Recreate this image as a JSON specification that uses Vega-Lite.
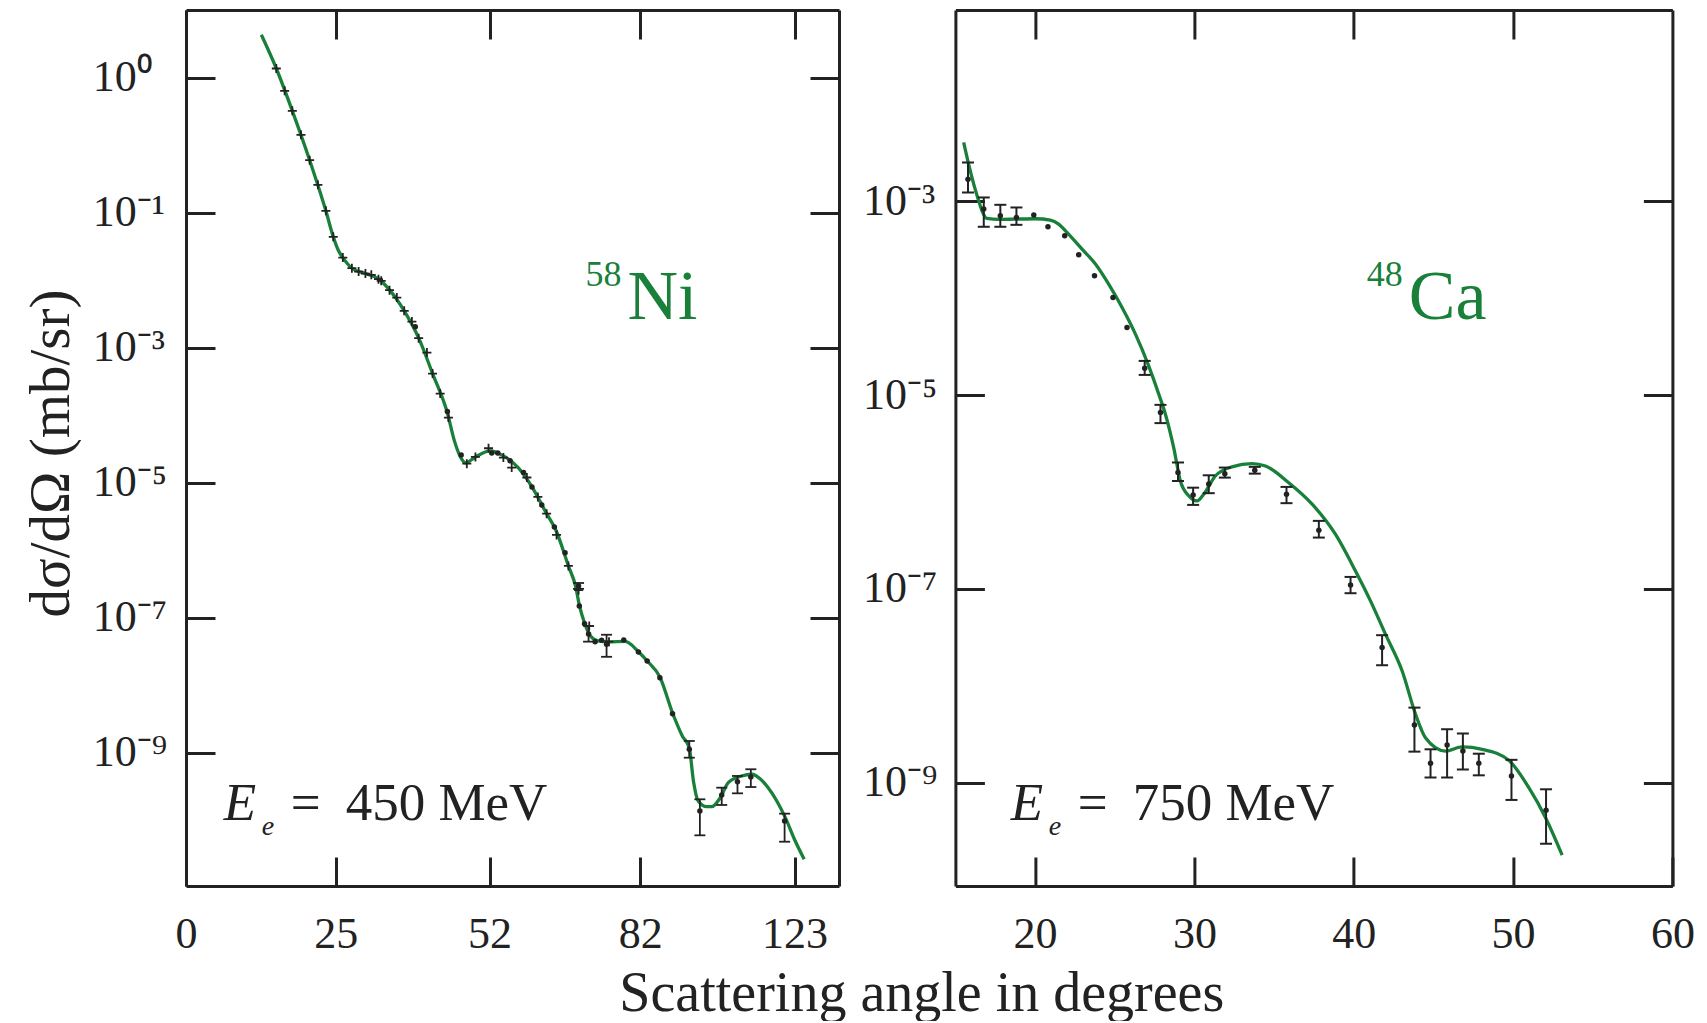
{
  "$schema": "https://vega.github.io/schema/vega-lite/v6.json",
  "background": "white",
  "padding": {"left": 22, "top": 8, "right": 5, "bottom": 0},
  "bounds": "flush",
  "spacing": 116.4,
  "config": {"view": {"stroke": null}, "font": "Liberation Serif"},
  "datasets": {
    "ni_curve": [
      {"angle": 12.49, "value": 42.9}, {"angle": 14.99, "value": 13.6}, {"angle": 17.66, "value": 3.21},
      {"angle": 20.56, "value": 0.597}, {"angle": 23.31, "value": 0.106}, {"angle": 24.56, "value": 0.0437},
      {"angle": 25.45, "value": 0.0271}, {"angle": 26.18, "value": 0.0215}, {"angle": 27.72, "value": 0.015},
      {"angle": 30.01, "value": 0.01248}, {"angle": 32.28, "value": 0.01042}, {"angle": 34.19, "value": 0.00716},
      {"angle": 36.74, "value": 0.0035}, {"angle": 39.24, "value": 0.00139}, {"angle": 41.71, "value": 0.000412},
      {"angle": 44.36, "value": 0.0001078}, {"angle": 45.62, "value": 0.0000415}, {"angle": 46.7, "value": 0.000024},
      {"angle": 47.66, "value": 0.0000196}, {"angle": 49.38, "value": 0.000024}, {"angle": 52.12, "value": 0.0000295},
      {"angle": 54.57, "value": 0.0000249}, {"angle": 57.37, "value": 0.0000165}, {"angle": 59.9, "value": 0.00000864},
      {"angle": 62.77, "value": 0.00000347}, {"angle": 64.66, "value": 0.00000192}, {"angle": 67.04, "value": 5.83e-7},
      {"angle": 68.43, "value": 2.95e-7}, {"angle": 69.22, "value": 1.49e-7}, {"angle": 70.22, "value": 8.34e-8},
      {"angle": 71.45, "value": 5.36e-8}, {"angle": 73.1, "value": 4.52e-8}, {"angle": 75.17, "value": 4.37e-8},
      {"angle": 78.68, "value": 4.44e-8}, {"angle": 81.57, "value": 3.13e-8}, {"angle": 83.53, "value": 2.28e-8},
      {"angle": 86.38, "value": 1.32e-8}, {"angle": 89.22, "value": 3.87e-9}, {"angle": 91.54, "value": 1.77e-9},
      {"angle": 93.25, "value": 1.17e-9}, {"angle": 94.26, "value": 3.81e-10}, {"angle": 95.43, "value": 1.92e-10},
      {"angle": 97.49, "value": 1.585e-10}, {"angle": 98.76, "value": 1.585e-10}, {"angle": 100.91, "value": 2.15e-10},
      {"angle": 103.1, "value": 3.6e-10}, {"angle": 106.7, "value": 4.52e-10}, {"angle": 109.52, "value": 4.79e-10},
      {"angle": 112.06, "value": 4.07e-10}, {"angle": 114.46, "value": 3.03e-10}, {"angle": 119.75, "value": 1.09e-10},
      {"angle": 122.92, "value": 5.27e-11}, {"angle": 126.45, "value": 2.64e-11}
    ],
    "ni_crosses": [
      {"angle": 14.99, "value": 13.6}, {"angle": 16.38, "value": 6.35}, {"angle": 17.66, "value": 3.21},
      {"angle": 19.1, "value": 1.416}, {"angle": 20.56, "value": 0.597}, {"angle": 21.96, "value": 0.2573},
      {"angle": 23.31, "value": 0.106}, {"angle": 24.56, "value": 0.0437}, {"angle": 26.18, "value": 0.02154},
      {"angle": 27.72, "value": 0.01501}, {"angle": 28.86, "value": 0.01336}, {"angle": 30.01, "value": 0.01248},
      {"angle": 31.03, "value": 0.01194}, {"angle": 32.28, "value": 0.01031}, {"angle": 32.75, "value": 0.00973},
      {"angle": 34.19, "value": 0.00709}, {"angle": 35.45, "value": 0.0055}, {"angle": 36.74, "value": 0.0035},
      {"angle": 38.07, "value": 0.002428}, {"angle": 39.24, "value": 0.001378}, {"angle": 40.7, "value": 0.000843},
      {"angle": 41.71, "value": 0.000412}, {"angle": 43.07, "value": 0.000208}, {"angle": 44.55, "value": 0.0000918},
      {"angle": 47.84, "value": 0.0000191}, {"angle": 49.38, "value": 0.000024}, {"angle": 51.8, "value": 0.0000323},
      {"angle": 54.57, "value": 0.0000235}, {"angle": 56.12, "value": 0.0000167}, {"angle": 58.95, "value": 0.0000119},
      {"angle": 61.05, "value": 0.00000614}, {"angle": 62.77, "value": 0.00000347}, {"angle": 64.72, "value": 0.00000168},
      {"angle": 67.04, "value": 5.83e-7}, {"angle": 69.04, "value": 2.55e-7}, {"angle": 71.2, "value": 7.53e-8},
      {"angle": 75.32, "value": 4.41e-8}
    ],
    "ni_dots": [
      {"angle": 38.66, "value": 0.00203}, {"angle": 44.36, "value": 0.000113}, {"angle": 46.83, "value": 0.0000257},
      {"angle": 52.4, "value": 0.0000275}, {"angle": 53.52, "value": 0.0000275}, {"angle": 55.82, "value": 0.000021},
      {"angle": 58.33, "value": 0.0000141}, {"angle": 59.9, "value": 0.00000864}, {"angle": 61.82, "value": 0.00000467},
      {"angle": 64.29, "value": 0.00000221}, {"angle": 66.39, "value": 9.18e-7},
      {"angle": 69.03, "value": 2.95e-7, "lo": 2.67e-7, "hi": 3.26e-7},
      {"angle": 69.18, "value": 1.49e-7}, {"angle": 70.22, "value": 8.15e-8},
      {"angle": 71.06, "value": 5.73e-8, "lo": 4.41e-8, "hi": 7.53e-8},
      {"angle": 72.43, "value": 4.41e-8}, {"angle": 73.78, "value": 4.63e-8},
      {"angle": 74.81, "value": 4.04e-8, "lo": 2.63e-8, "hi": 5.58e-8},
      {"angle": 78.4, "value": 4.67e-8}, {"angle": 81.57, "value": 3.1e-8}, {"angle": 83.53, "value": 2.28e-8},
      {"angle": 86.38, "value": 1.29e-8}, {"angle": 89.22, "value": 3.78e-9},
      {"angle": 93.25, "value": 1.12e-9, "lo": 8.43e-10, "hi": 1.49e-9},
      {"angle": 95.84, "value": 1.37e-10, "lo": 5.97e-11, "hi": 2.04e-10},
      {"angle": 101.32, "value": 2.36e-10, "lo": 1.68e-10, "hi": 3.03e-10},
      {"angle": 105.6, "value": 3.72e-10, "lo": 2.5e-10, "hi": 4.52e-10},
      {"angle": 109.23, "value": 4.37e-10, "lo": 3.1e-10, "hi": 5.68e-10},
      {"angle": 119.52, "value": 9.73e-11, "lo": 4.8e-11, "hi": 1.25e-10}
    ],
    "ca_curve": [
      {"angle": 15.52, "value": 0.00407}, {"angle": 15.83, "value": 0.00243}, {"angle": 16.15, "value": 0.00151},
      {"angle": 16.46, "value": 0.001017}, {"angle": 16.67, "value": 0.000801}, {"angle": 16.98, "value": 0.000668},
      {"angle": 17.72, "value": 0.000652}, {"angle": 18.77, "value": 0.000658}, {"angle": 20.02, "value": 0.000663},
      {"angle": 20.96, "value": 0.000642}, {"angle": 21.48, "value": 0.000584}, {"angle": 21.91, "value": 0.000498},
      {"angle": 22.95, "value": 0.000322}, {"angle": 23.79, "value": 0.000226}, {"angle": 24.62, "value": 0.00014},
      {"angle": 25.46, "value": 0.0000804}, {"angle": 26.3, "value": 0.0000427}, {"angle": 27.13, "value": 0.0000201},
      {"angle": 27.76, "value": 0.0000103}, {"angle": 28.18, "value": 0.00000637}, {"angle": 28.7, "value": 0.00000288},
      {"angle": 29.12, "value": 0.0000013}, {"angle": 29.65, "value": 9.13e-7}, {"angle": 30.17, "value": 8.11e-7},
      {"angle": 30.59, "value": 9.51e-7}, {"angle": 31.32, "value": 0.00000147}, {"angle": 32.36, "value": 0.00000182},
      {"angle": 33.62, "value": 0.00000197}, {"angle": 34.46, "value": 0.00000186}, {"angle": 35.92, "value": 0.00000125},
      {"angle": 37.39, "value": 7.5e-7}, {"angle": 38.85, "value": 3.67e-7}, {"angle": 40.11, "value": 1.53e-7},
      {"angle": 41.05, "value": 7.52e-8}, {"angle": 41.99, "value": 3.41e-8}, {"angle": 43.04, "value": 1.42e-8},
      {"angle": 43.88, "value": 5.08e-9}, {"angle": 44.5, "value": 2.91e-9}, {"angle": 45.76, "value": 2.12e-9},
      {"angle": 46.8, "value": 2.34e-9}, {"angle": 48.06, "value": 2.21e-9}, {"angle": 49.73, "value": 1.7e-9},
      {"angle": 50.99, "value": 8.87e-10}, {"angle": 52.04, "value": 4.35e-10}, {"angle": 53.08, "value": 1.79e-10}
    ],
    "ca_points": [
      {"angle": 15.79, "value": 0.0017, "lo": 0.00124, "hi": 0.00253},
      {"angle": 16.78, "value": 0.000835, "lo": 0.000548, "hi": 0.0011},
      {"angle": 17.82, "value": 0.000712, "lo": 0.000548, "hi": 0.000924},
      {"angle": 18.83, "value": 0.000684, "lo": 0.000574, "hi": 0.000867},
      {"angle": 19.92, "value": 0.000724}, {"angle": 20.81, "value": 0.000548}, {"angle": 21.86, "value": 0.000442},
      {"angle": 22.74, "value": 0.000282}, {"angle": 23.73, "value": 0.000171}, {"angle": 24.89, "value": 0.000102},
      {"angle": 25.77, "value": 0.00005},
      {"angle": 26.88, "value": 0.000019, "lo": 0.0000162, "hi": 0.0000226},
      {"angle": 27.87, "value": 0.00000662, "lo": 0.00000515, "hi": 0.00000795},
      {"angle": 28.97, "value": 0.00000159, "lo": 0.0000013, "hi": 0.00000202},
      {"angle": 29.92, "value": 9.35e-7, "lo": 7.37e-7, "hi": 0.00000111},
      {"angle": 30.9, "value": 0.00000121, "lo": 9.74e-7, "hi": 0.00000149},
      {"angle": 31.91, "value": 0.00000155, "lo": 0.00000141, "hi": 0.00000179},
      {"angle": 33.79, "value": 0.00000168, "lo": 0.00000155, "hi": 0.00000182},
      {"angle": 35.78, "value": 9.51e-7, "lo": 7.68e-7, "hi": 0.00000113},
      {"angle": 37.81, "value": 4.04e-7, "lo": 3.39e-7, "hi": 5.04e-7},
      {"angle": 39.8, "value": 1.1e-7, "lo": 9.03e-8, "hi": 1.33e-7},
      {"angle": 41.78, "value": 2.48e-8, "lo": 1.63e-8, "hi": 3.33e-8},
      {"angle": 43.81, "value": 3.94e-9, "lo": 2.09e-9, "hi": 5.95e-9},
      {"angle": 44.82, "value": 1.59e-9, "lo": 1.13e-9, "hi": 2.21e-9},
      {"angle": 45.86, "value": 2.45e-9, "lo": 1.13e-9, "hi": 3.56e-9},
      {"angle": 46.85, "value": 2.12e-9, "lo": 1.37e-9, "hi": 3.21e-9},
      {"angle": 47.85, "value": 1.59e-9, "lo": 1.19e-9, "hi": 1.99e-9},
      {"angle": 49.9, "value": 1.17e-9, "lo": 6.63e-10, "hi": 1.72e-9},
      {"angle": 52.07, "value": 5.19e-10, "lo": 2.34e-10, "hi": 8.54e-10}
    ]
  },
  "hconcat": [
    {
      "width": 653,
      "height": 876,
      "resolve": {"axis": {"x": "independent", "y": "independent"}},
      "layer": [
        {
          "data": {"name": "ni_curve"},
          "mark": {"type": "line", "color": "#19803a", "strokeWidth": 3.3, "interpolate": "monotone", "clip": true},
          "encoding": {
            "x": {
              "field": "angle", "type": "quantitative",
              "scale": {"domain": [0, 10, 20, 30, 40, 50, 60, 70, 80, 90, 100, 110, 120, 130, 140.88], "range": [0, 60.4, 120.34, 179.36, 237.02, 292.88, 346.5, 397.49, 445.45, 490.02, 530.87, 567.67, 600.16, 628.07, 653], "nice": false, "zero": false},
              "axis": {"orient": "bottom", "values": [0, 25, 52, 82, 123], "format": "d", "title": "Scattering angle in degrees", "titleX": 735.3, "titleY": 124, "titleBaseline": "alphabetic", "titleAlign": "center", "titleFont": "Liberation Serif", "titleFontSize": 56, "titleFontWeight": "normal", "titleColor": "#222", "labelFont": "Liberation Serif", "labelFontSize": 44, "labelColor": "#222", "labelPadding": 55.7, "labelFlush": false, "labelOverlap": false, "tickSize": -29, "tickWidth": 3, "tickColor": "#222", "domainWidth": 3, "domainColor": "#222", "grid": false}
            },
            "y": {
              "field": "value", "type": "quantitative",
              "scale": {"type": "log", "domain": [1.06e-11, 100], "nice": false},
              "axis": {"orient": "left", "values": [10, 0.1, 0.001, 0.00001, 0.0000001, 0.000000001], "labelExpr": "datum.value > 1 ? '10⁰' : datum.value > 0.01 ? '10⁻¹' : datum.value > 0.0001 ? '10⁻³' : datum.value > 0.000001 ? '10⁻⁵' : datum.value > 0.00000001 ? '10⁻⁷' : '10⁻⁹'", "title": "dσ/dΩ (mb/sr)", "titleX": -117.6, "titleY": 443, "titleAngle": -90, "titleBaseline": "alphabetic", "titleAlign": "center", "titleFont": "Liberation Serif", "titleFontSize": 57, "titleFontWeight": "normal", "titleColor": "#222", "labelFont": "Liberation Serif", "labelFontSize": 44, "labelColor": "#222", "labelAlign": "left", "labelBaseline": "middle", "labelPadding": 122.7, "labelOverlap": false, "labelFlush": false, "tickSize": -29, "tickWidth": 3, "tickColor": "#222", "domainWidth": 3, "domainColor": "#222", "grid": false}
            }
          }
        },
        {
          "data": {"name": "ni_crosses"},
          "mark": {"type": "point", "shape": "M-1,0H1M0,-1V1", "filled": false, "stroke": "#222", "strokeWidth": 1.8, "size": 81, "opacity": 1},
          "encoding": {
            "x": {"field": "angle", "type": "quantitative", "axis": {"orient": "top", "values": [0, 25, 52, 82, 123], "labels": false, "title": null, "tickSize": -29, "tickWidth": 3, "tickColor": "#222", "domainWidth": 3, "domainColor": "#222", "grid": false}},
            "y": {"field": "value", "type": "quantitative", "axis": {"orient": "right", "values": [10, 0.1, 0.001, 0.00001, 0.0000001, 0.000000001], "labels": false, "title": null, "tickSize": -29, "tickWidth": 3, "tickColor": "#222", "domainWidth": 3, "domainColor": "#222", "grid": false}}
          }
        },
        {
          "data": {"name": "ni_dots"},
          "transform": [{"filter": "isValid(datum.lo)"}],
          "mark": {"type": "rule", "color": "#222", "strokeWidth": 1.8},
          "encoding": {
            "x": {"field": "angle", "type": "quantitative", "axis": null},
            "y": {"field": "lo", "type": "quantitative", "axis": null},
            "y2": {"field": "hi"}
          }
        },
        {
          "data": {"name": "ni_dots"},
          "transform": [{"filter": "isValid(datum.lo)"}],
          "mark": {"type": "tick", "orient": "horizontal", "size": 11, "thickness": 1.8, "color": "#222", "opacity": 1},
          "encoding": {
            "x": {"field": "angle", "type": "quantitative", "axis": null},
            "y": {"field": "lo", "type": "quantitative", "axis": null}
          }
        },
        {
          "data": {"name": "ni_dots"},
          "transform": [{"filter": "isValid(datum.hi)"}],
          "mark": {"type": "tick", "orient": "horizontal", "size": 11, "thickness": 1.8, "color": "#222", "opacity": 1},
          "encoding": {
            "x": {"field": "angle", "type": "quantitative", "axis": null},
            "y": {"field": "hi", "type": "quantitative", "axis": null}
          }
        },
        {
          "data": {"name": "ni_dots"},
          "mark": {"type": "circle", "color": "#222", "size": 30, "opacity": 1},
          "encoding": {
            "x": {"field": "angle", "type": "quantitative", "axis": null},
            "y": {"field": "value", "type": "quantitative", "axis": null}
          }
        },
        {
          "data": {"values": [{"angle": 79.18, "value": 0.00266}]},
          "mark": {"type": "text", "text": "Ni", "font": "Liberation Serif", "fontSize": 70, "align": "left", "baseline": "alphabetic", "color": "#19803a"},
          "encoding": {
            "x": {"field": "angle", "type": "quantitative", "axis": null},
            "y": {"field": "value", "type": "quantitative", "axis": null}
          }
        },
        {
          "data": {"values": [{"angle": 79.18, "value": 0.00266}]},
          "mark": {"type": "text", "text": "58", "font": "Liberation Serif", "fontSize": 36, "align": "right", "baseline": "alphabetic", "dx": -6, "dy": -33, "color": "#19803a"},
          "encoding": {
            "x": {"field": "angle", "type": "quantitative", "axis": null},
            "y": {"field": "value", "type": "quantitative", "axis": null}
          }
        },
        {
          "data": {"values": [{"angle": 6.24, "value": 1.02e-10}]},
          "mark": {"type": "text", "text": "E", "font": "Liberation Serif", "fontStyle": "italic", "fontSize": 53, "align": "left", "baseline": "alphabetic", "color": "#222"},
          "encoding": {
            "x": {"field": "angle", "type": "quantitative", "axis": null},
            "y": {"field": "value", "type": "quantitative", "axis": null}
          }
        },
        {
          "data": {"values": [{"angle": 6.24, "value": 1.02e-10}]},
          "mark": {"type": "text", "text": "e", "font": "Liberation Serif", "fontStyle": "italic", "fontSize": 28, "align": "left", "baseline": "alphabetic", "dx": 38, "dy": 15, "color": "#222"},
          "encoding": {
            "x": {"field": "angle", "type": "quantitative", "axis": null},
            "y": {"field": "value", "type": "quantitative", "axis": null}
          }
        },
        {
          "data": {"values": [{"angle": 6.24, "value": 1.02e-10}]},
          "mark": {"type": "text", "text": "=", "font": "Liberation Serif", "fontSize": 53, "align": "left", "baseline": "alphabetic", "dx": 67, "color": "#222"},
          "encoding": {
            "x": {"field": "angle", "type": "quantitative", "axis": null},
            "y": {"field": "value", "type": "quantitative", "axis": null}
          }
        },
        {
          "data": {"values": [{"angle": 6.24, "value": 1.02e-10}]},
          "mark": {"type": "text", "text": "450 MeV", "font": "Liberation Serif", "fontSize": 53, "align": "left", "baseline": "alphabetic", "dx": 122, "color": "#222"},
          "encoding": {
            "x": {"field": "angle", "type": "quantitative", "axis": null},
            "y": {"field": "value", "type": "quantitative", "axis": null}
          }
        }
      ]
    },
    {
      "width": 717,
      "height": 876,
      "resolve": {"axis": {"x": "independent", "y": "independent"}},
      "layer": [
        {
          "data": {"name": "ca_curve"},
          "mark": {"type": "line", "color": "#19803a", "strokeWidth": 3.3, "interpolate": "monotone", "clip": true},
          "encoding": {
            "x": {
              "field": "angle", "type": "quantitative",
              "scale": {"domain": [15, 60], "nice": false, "zero": false},
              "axis": {"orient": "bottom", "values": [20, 30, 40, 50, 60], "format": "d", "title": null, "labelFont": "Liberation Serif", "labelFontSize": 44, "labelColor": "#222", "labelPadding": 55.7, "labelFlush": false, "labelOverlap": false, "tickSize": -29, "tickWidth": 3, "tickColor": "#222", "domainWidth": 3, "domainColor": "#222", "grid": false}
            },
            "y": {
              "field": "value", "type": "quantitative",
              "scale": {"type": "log", "domain": [8.57e-11, 0.0948], "nice": false},
              "axis": {"orient": "left", "values": [0.001, 0.00001, 0.0000001, 0.000000001], "labelExpr": "datum.value > 0.0001 ? '10⁻³' : datum.value > 0.000001 ? '10⁻⁵' : datum.value > 0.00000001 ? '10⁻⁷' : '10⁻⁹'", "title": null, "labelFont": "Liberation Serif", "labelFontSize": 44, "labelColor": "#222", "labelAlign": "left", "labelBaseline": "middle", "labelPadding": 121.9, "labelOverlap": false, "labelFlush": false, "tickSize": -29, "tickWidth": 3, "tickColor": "#222", "domainWidth": 3, "domainColor": "#222", "grid": false}
            }
          }
        },
        {
          "data": {"name": "ca_points"},
          "transform": [{"filter": "isValid(datum.lo)"}],
          "mark": {"type": "rule", "color": "#222", "strokeWidth": 2},
          "encoding": {
            "x": {"field": "angle", "type": "quantitative", "axis": {"orient": "top", "values": [20, 30, 40, 50], "labels": false, "title": null, "tickSize": -29, "tickWidth": 3, "tickColor": "#222", "domainWidth": 3, "domainColor": "#222", "grid": false}},
            "y": {"field": "lo", "type": "quantitative", "axis": {"orient": "right", "values": [0.001, 0.00001, 0.0000001, 0.000000001], "labels": false, "title": null, "tickSize": -29, "tickWidth": 3, "tickColor": "#222", "domainWidth": 3, "domainColor": "#222", "grid": false}},
            "y2": {"field": "hi"}
          }
        },
        {
          "data": {"name": "ca_points"},
          "transform": [{"filter": "isValid(datum.lo)"}],
          "mark": {"type": "tick", "orient": "horizontal", "size": 12, "thickness": 2, "color": "#222", "opacity": 1},
          "encoding": {
            "x": {"field": "angle", "type": "quantitative", "axis": null},
            "y": {"field": "lo", "type": "quantitative", "axis": null}
          }
        },
        {
          "data": {"name": "ca_points"},
          "transform": [{"filter": "isValid(datum.hi)"}],
          "mark": {"type": "tick", "orient": "horizontal", "size": 12, "thickness": 2, "color": "#222", "opacity": 1},
          "encoding": {
            "x": {"field": "angle", "type": "quantitative", "axis": null},
            "y": {"field": "hi", "type": "quantitative", "axis": null}
          }
        },
        {
          "data": {"name": "ca_points"},
          "mark": {"type": "circle", "color": "#222", "size": 30, "opacity": 1},
          "encoding": {
            "x": {"field": "angle", "type": "quantitative", "axis": null},
            "y": {"field": "value", "type": "quantitative", "axis": null}
          }
        },
        {
          "data": {"values": [{"angle": 43.46, "value": 0.0000614}]},
          "mark": {"type": "text", "text": "Ca", "font": "Liberation Serif", "fontSize": 70, "align": "left", "baseline": "alphabetic", "color": "#19803a"},
          "encoding": {
            "x": {"field": "angle", "type": "quantitative", "axis": null},
            "y": {"field": "value", "type": "quantitative", "axis": null}
          }
        },
        {
          "data": {"values": [{"angle": 43.46, "value": 0.0000614}]},
          "mark": {"type": "text", "text": "48", "font": "Liberation Serif", "fontSize": 36, "align": "right", "baseline": "alphabetic", "dx": -6, "dy": -33, "color": "#19803a"},
          "encoding": {
            "x": {"field": "angle", "type": "quantitative", "axis": null},
            "y": {"field": "value", "type": "quantitative", "axis": null}
          }
        },
        {
          "data": {"values": [{"angle": 18.47, "value": 4.16e-10}]},
          "mark": {"type": "text", "text": "E", "font": "Liberation Serif", "fontStyle": "italic", "fontSize": 53, "align": "left", "baseline": "alphabetic", "color": "#222"},
          "encoding": {
            "x": {"field": "angle", "type": "quantitative", "axis": null},
            "y": {"field": "value", "type": "quantitative", "axis": null}
          }
        },
        {
          "data": {"values": [{"angle": 18.47, "value": 4.16e-10}]},
          "mark": {"type": "text", "text": "e", "font": "Liberation Serif", "fontStyle": "italic", "fontSize": 28, "align": "left", "baseline": "alphabetic", "dx": 38, "dy": 15, "color": "#222"},
          "encoding": {
            "x": {"field": "angle", "type": "quantitative", "axis": null},
            "y": {"field": "value", "type": "quantitative", "axis": null}
          }
        },
        {
          "data": {"values": [{"angle": 18.47, "value": 4.16e-10}]},
          "mark": {"type": "text", "text": "=", "font": "Liberation Serif", "fontSize": 53, "align": "left", "baseline": "alphabetic", "dx": 67, "color": "#222"},
          "encoding": {
            "x": {"field": "angle", "type": "quantitative", "axis": null},
            "y": {"field": "value", "type": "quantitative", "axis": null}
          }
        },
        {
          "data": {"values": [{"angle": 18.47, "value": 4.16e-10}]},
          "mark": {"type": "text", "text": "750 MeV", "font": "Liberation Serif", "fontSize": 53, "align": "left", "baseline": "alphabetic", "dx": 122, "color": "#222"},
          "encoding": {
            "x": {"field": "angle", "type": "quantitative", "axis": null},
            "y": {"field": "value", "type": "quantitative", "axis": null}
          }
        }
      ]
    }
  ]
}
